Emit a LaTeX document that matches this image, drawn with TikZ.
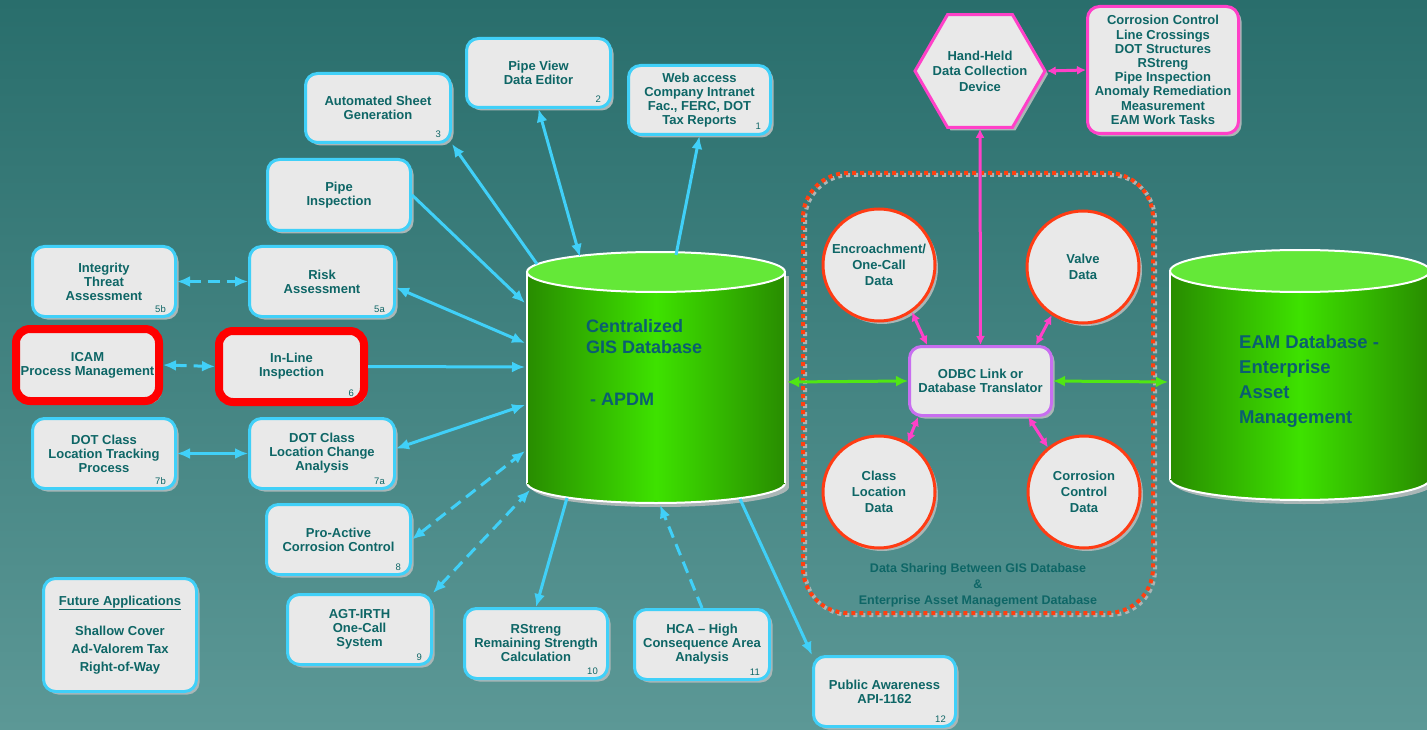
\documentclass[tikz,border=0pt]{standalone}
\usepackage{fontspec}
\setmainfont{Liberation Sans}
\usepackage{xcolor}
\usepackage{tikz}
\usetikzlibrary{arrows.meta,shapes.geometric,shadows}

\definecolor{bgtop}{RGB}{41,110,108}
\definecolor{bgbot}{RGB}{92,152,150}
\definecolor{boxfill}{RGB}{233,233,233}
\definecolor{boxline}{RGB}{64,208,248}
\definecolor{txt}{RGB}{14,102,102}
\definecolor{cyltxt}{RGB}{10,94,112}
\definecolor{circred}{RGB}{255,60,20}
\definecolor{framered}{RGB}{255,64,16}
\definecolor{pinkline}{RGB}{255,64,200}
\definecolor{odbcline}{RGB}{200,110,240}
\definecolor{greenline}{RGB}{80,230,20}
\definecolor{cyldark}{RGB}{40,140,0}
\definecolor{cylmid}{RGB}{62,226,0}
\definecolor{cyltop}{RGB}{100,232,56}
\definecolor{shadowgray}{RGB}{170,182,182}

\tikzset{
    >={Latex[length=13pt,width=11pt]},
    boxshadow/.style={drop shadow={shadow xshift=3pt,shadow yshift=-3pt,fill=shadowgray,opacity=1}},
    box/.style={draw=boxline, fill=boxfill, line width=3pt, rounded corners=12pt,
        inner sep=0pt, align=center, text=txt, boxshadow,
        font=\bfseries\fontsize{13}{14}\selectfont},
    redbox/.style={box, draw=red, line width=8pt, rounded corners=14pt},
    dataset/.style={circle, draw=circred, fill=boxfill, line width=3pt, minimum size=112pt,
        inner sep=0pt, align=center, text=txt, boxshadow,
        font=\bfseries\fontsize{13}{16}\selectfont},
    num/.style={text=txt, inner sep=0pt, anchor=base east, font=\fontsize{9.5}{10}\selectfont},
    cyltext/.style={text=cyltxt, inner sep=0pt, align=left, font=\bfseries\fontsize{18}{21}\selectfont},
    link/.style={draw=boxline, line width=3pt},
    dashlink/.style={dash pattern=on 12pt off 7pt},
    pinklink/.style={draw=pinkline, line width=3pt, >={Latex[length=9pt,width=9pt]}},
    greenlink/.style={draw=greenline, line width=3pt, >={Latex[length=12pt,width=11pt]}}
}

\begin{document}
\begin{tikzpicture}[x=1pt, y=-1pt]
        \clip (0,0) rectangle (1427,730);
        \fill[top color=bgtop, bottom color=bgbot] (0,0) rectangle (1427,730);

        \fill[shadowgray] (660,487) ellipse [x radius=129pt, y radius=20pt];
        \fill[shadowgray] (531,276) rectangle (789,487);
        \shadedraw[left color=cyldark, right color=cyldark, middle color=cylmid, draw=white, line width=2pt] (656,483) ellipse [x radius=129pt, y radius=20pt];
        \shade[left color=cyldark, right color=cyldark, middle color=cylmid] (527,272) rectangle (785,483);
        \draw[white, line width=2pt] (527,272) -- (527,483) (785,272) -- (785,483);
        \filldraw[fill=cyltop, draw=white, line width=2pt] (656,272) ellipse [x radius=129pt, y radius=20pt];
        \node[cyltext, anchor=west] (gistitle) at (586,337) {Centralized\\GIS Database};
        \node[cyltext, anchor=base west] (apdm) at (590,405) {- APDM};

        \fill[shadowgray] (1304,483) ellipse [x radius=130pt, y radius=21pt];
        \fill[shadowgray] (1174,275) rectangle (1434,483);
        \shadedraw[left color=cyldark, right color=cyldark, middle color=cylmid, draw=white, line width=2pt] (1300,479) ellipse [x radius=130pt, y radius=21pt];
        \shade[left color=cyldark, right color=cyldark, middle color=cylmid] (1170,271) rectangle (1430,479);
        \draw[white, line width=2pt] (1170,271) -- (1170,479);
        \filldraw[fill=cyltop, draw=white, line width=2pt] (1300,271) ellipse [x radius=130pt, y radius=21pt];
        \node[cyltext, anchor=west, font=\bfseries\fontsize{18.5}{25}\selectfont] (eamtitle) at (1239,381) {EAM Database -\\Enterprise\\Asset\\Management};

        \coordinate (gtop1) at (676,255);
        \coordinate (gtop2) at (580,257);
        \coordinate (gtop3) at (537,264);
        \coordinate (gleft1) at (525,303);
        \coordinate (gleft2) at (525,343);
        \coordinate (gleft3) at (525,367);
        \coordinate (gleft4) at (525,405);
        \coordinate (gleft5) at (525,451);
        \coordinate (gbot1) at (530,490);
        \coordinate (gbot2) at (567,498);
        \coordinate (gbot3) at (660,505);
        \coordinate (gbot4) at (740,499);
        \coordinate (gright) at (787,382);
        \coordinate (eamleft) at (1168,382);

        \draw[shadowgray, line width=4pt, dash pattern=on 4pt off 4pt, rounded corners=45pt] (805,175) rectangle (1155,615);
        \draw[framered, line width=4pt, dash pattern=on 4pt off 4pt, rounded corners=45pt] (803,173) rectangle (1153,613);
        \node[text=txt, align=center, font=\bfseries\fontsize{12.5}{16}\selectfont] (sharing) at (978,585) {Data Sharing Between GIS Database\\\&\\Enterprise Asset Management Database};

        \node[box, minimum width=142pt, minimum height=69pt] (webacc) at (699.5,100) {Web access\\Company Intranet\\Fac., FERC, DOT\\Tax Reports};
        \node[box, minimum width=144pt, minimum height=69pt] (pipeview) at (538.5,73) {Pipe View\\Data Editor};
        \node[box, minimum width=145pt, minimum height=69pt] (autosheet) at (378,108) {Automated Sheet\\Generation};
        \node[box, minimum width=143pt, minimum height=71pt] (pipeinsp) at (339,195) {Pipe\\Inspection};
        \node[box, minimum width=145pt, minimum height=70pt] (risk) at (322,281.5) {Risk\\Assessment};
        \node[box, minimum width=143pt, minimum height=70pt] (integrity) at (104,281.5) {Integrity\\Threat\\Assessment};
        \node[redbox, minimum width=143pt, minimum height=72pt] (icam) at (87.5,365) {ICAM\\Process Management};
        \node[redbox, minimum width=145pt, minimum height=71pt] (inline) at (291.5,366.5) {In-Line\\Inspection};
        \node[box, minimum width=143pt, minimum height=70pt] (dottrack) at (104,453.5) {DOT Class\\Location Tracking\\Process};
        \node[box, minimum width=145pt, minimum height=70pt] (dotchange) at (322,453.5) {DOT Class\\Location Change\\Analysis};
        \node[box, minimum width=144pt, minimum height=70pt] (proactive) at (338.5,539.5) {Pro-Active\\Corrosion Control};
        \node[box, minimum width=144pt, minimum height=70pt] (agtirth) at (359.5,629.5) {AGT-IRTH\\One-Call\\System};
        \node[box, minimum width=153pt, minimum height=113pt, font=\bfseries\fontsize{13}{18}\selectfont] (future) at (120,635) {\underline{Future Applications}\\[12pt]Shallow Cover\\Ad-Valorem Tax\\Right-of-Way};
        \node[box, minimum width=143pt, minimum height=70pt] (rstreng) at (536,643.5) {RStreng\\Remaining Strength\\Calculation};
        \node[box, minimum width=135pt, minimum height=70pt] (hca) at (702,644.5) {HCA – High\\Consequence Area\\Analysis};
        \node[box, minimum width=142pt, minimum height=70pt] (pubaware) at (884.5,691.5) {Public Awareness\\API-1162};

        \node[num] (n1) at ([shift={(-11,-6)}]webacc.south east) {1};
        \node[num] (n2) at ([shift={(-11,-6)}]pipeview.south east) {2};
        \node[num] (n3) at ([shift={(-11,-6)}]autosheet.south east) {3};
        \node[num] (n5a) at ([shift={(-11,-6)}]risk.south east) {5a};
        \node[num] (n5b) at ([shift={(-11,-6)}]integrity.south east) {5b};
        \node[num] (n6) at ([shift={(-14,-10)}]inline.south east) {6};
        \node[num] (n7a) at ([shift={(-11,-6)}]dotchange.south east) {7a};
        \node[num] (n7b) at ([shift={(-11,-6)}]dottrack.south east) {7b};
        \node[num] (n8) at ([shift={(-11,-6)}]proactive.south east) {8};
        \node[num] (n9) at ([shift={(-11,-6)}]agtirth.south east) {9};
        \node[num] (n10) at ([shift={(-11,-6)}]rstreng.south east) {10};
        \node[num] (n11) at ([shift={(-11,-6)}]hca.south east) {11};
        \node[num] (n12) at ([shift={(-11,-6)}]pubaware.south east) {12};

        \node[regular polygon, regular polygon sides=6, minimum size=130pt, inner sep=0pt,
            draw=pinkline, fill=boxfill, line width=3pt, boxshadow] (handheld) at (980,71) {};
        \node[align=center, text=txt, font=\bfseries\fontsize{13}{15.5}\selectfont] (handheldtext) at (handheld.center) {Hand-Held\\Data Collection\\Device};
        \node[box, draw=pinkline, minimum width=151pt, minimum height=127pt, font=\bfseries\fontsize{13}{14.2}\selectfont] (tasks) at (1163,70) {Corrosion Control\\Line Crossings\\DOT Structures\\RStreng\\Pipe Inspection\\Anomaly Remediation\\Measurement\\EAM Work Tasks};
        \node[box, draw=odbcline, minimum width=142pt, minimum height=69pt] (odbc) at (980.5,381) {ODBC Link or\\Database Translator};

        \node[dataset] (encroach) at (879,265) {Encroachment/\\One-Call\\Data};
        \node[dataset] (valve) at (1083,267) {Valve\\Data};
        \node[dataset] (classloc) at (879,492) {Class\\Location\\Data};
        \node[dataset] (corrctl) at (1084,492) {Corrosion\\Control\\Data};

        \draw[link, ->] (gtop1) -- (webacc.south);
        \draw[link, <->] (pipeview.south) -- (gtop2);
        \draw[link, ->] (gtop3) -- (autosheet.south east);
        \draw[link, ->] (pipeinsp.east) -- (gleft1);
        \draw[link, <->] ([yshift=-6pt]risk.east) -- (gleft2);
        \draw[link, ->] (inline.east) -- (gleft3);
        \draw[link, <->] ([yshift=5pt]dotchange.east) -- (gleft4);
        \draw[link, dashlink, <->] (proactive.east) -- (gleft5);
        \draw[link, dashlink, <->] (agtirth.north east) -- (gbot1);
        \draw[link, ->] (gbot2) -- (rstreng.north);
        \draw[link, dashlink, ->] (hca.north) -- (gbot3);
        \draw[link, ->] (gbot4) -- (pubaware.north west);
        \draw[link, dashlink, <->] (integrity.east) -- (risk.west);
        \draw[link, dashlink, <->] (icam.east) -- (inline.west);
        \draw[link, <->] (dottrack.east) -- (dotchange.west);

        \draw[pinklink, <->] (handheld.east) -- (tasks.west);
        \draw[pinklink, <->] (handheld.south) -- (odbc.north);
        \draw[pinklink, <->] (encroach.-55) -- (odbc.146);
        \draw[pinklink, <->] (valve.237) -- (odbc.33);
        \draw[pinklink, <->] (classloc.60) -- (odbc.210);
        \draw[pinklink, <->] (corrctl.129) -- (odbc.-37);

        \draw[greenlink, <->] (gright) -- (odbc.west);
        \draw[greenlink, <->] (odbc.east) -- (eamleft);
\end{tikzpicture}
\end{document}
